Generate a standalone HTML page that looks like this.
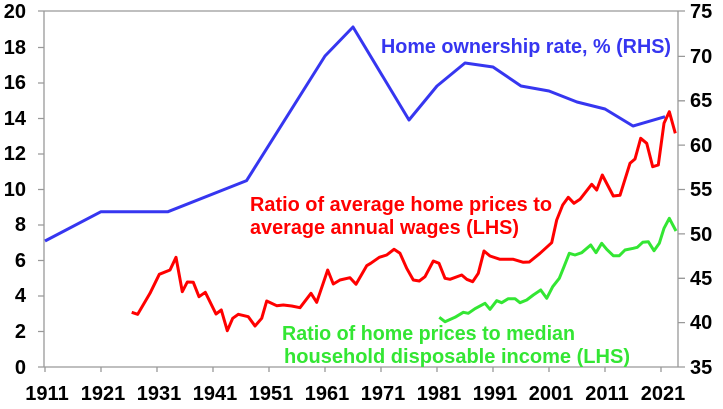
<!DOCTYPE html>
<html><head><meta charset="utf-8"><style>
html,body{margin:0;padding:0;background:#fff;}
svg{display:block;font-family:"Liberation Sans",Arial,sans-serif;font-weight:bold;}
</style></head><body>
<svg width="723" height="409" viewBox="0 0 723 409" xmlns="http://www.w3.org/2000/svg">
<g stroke="#999" stroke-width="1.3" fill="none">
<line x1="44" y1="11" x2="44" y2="367"/>
<line x1="44" y1="367" x2="678" y2="367"/>
<line x1="44" y1="11" x2="678" y2="11"/>
<line x1="678" y1="11" x2="678" y2="367"/>
<path d="M38 11H44M38 47.5H44M38 83H44M38 118.5H44M38 154H44M38 189.5H44M38 225H44M38 260.5H44M38 296H44M38 331.5H44M38 367H44"/>
<path d="M678 11H685M678 56.4H685M678 100.8H685M678 145.1H685M678 189.5H685M678 233.9H685M678 278.3H685M678 322.6H685M678 367H685"/>
<path d="M45 367V372M101 367V372M157 367V372M213 367V372M269 367V372M325 367V372M381 367V372M437 367V372M493 367V372M549 367V372M605 367V372M661 367V372"/>
</g>
<g font-size="20" fill="#000" text-anchor="end">
<text x="26" y="18">20</text><text x="26" y="54">18</text><text x="26" y="89">16</text><text x="26" y="125">14</text><text x="26" y="160">12</text><text x="26" y="196">10</text><text x="26" y="231">8</text><text x="26" y="267">6</text><text x="26" y="302">4</text><text x="26" y="338">2</text><text x="26" y="374">0</text>
</g>
<g font-size="20" fill="#000">
<text x="690" y="18">75</text><text x="690" y="63">70</text><text x="690" y="107">65</text><text x="690" y="152">60</text><text x="690" y="196">55</text><text x="690" y="241">50</text><text x="690" y="285">45</text><text x="690" y="329">40</text><text x="690" y="374">35</text>
</g>
<g font-size="20" fill="#000" text-anchor="middle">
<text x="47" y="400">1911</text><text x="103" y="400">1921</text><text x="159" y="400">1931</text><text x="215" y="400">1941</text><text x="271" y="400">1951</text><text x="327" y="400">1961</text><text x="383" y="400">1971</text><text x="439" y="400">1981</text><text x="495" y="400">1991</text><text x="551" y="400">2001</text><text x="607" y="400">2011</text><text x="663" y="400">2021</text>
</g>
<polyline fill="none" stroke="#3636f0" stroke-width="3" stroke-linejoin="round" points="45,241 101,211.7 168,211.7 246.6,180.6 325,56 353,27 409,120 437,86 465,63 493,67 521,86 549,91 577,102 605,109 633,126 665,116.7"/>
<polyline fill="none" stroke="#f00" stroke-width="3" stroke-linejoin="round" points="131.7,312.3 137.7,314.3 150,293.3 159.3,274.3 170,270 176,257.3 182.3,291.7 187.3,282 193.3,282.3 199,296.7 205.3,292.3 216,314 221.3,310 227.3,330.7 232.7,318.3 238.3,314.3 248.3,316.7 255,326 261.7,318.3 266.7,301 276.7,305.7 283.3,305 291.7,306 300,307.7 311,293.3 316.7,302.3 327.7,270 333.3,284 340,280 350,277.7 356,284.3 366.7,265.7 370.7,263.3 379.3,257.3 386.7,255 394,249.3 400,253.3 406.7,268.3 413.3,280 419.3,281 425,276.7 433.3,261 439,263.3 445,278.3 450,279.3 461.7,275 466.7,279.3 472.7,281.7 478.3,273.3 484,251 490,256 500,259.3 513.3,259.3 523.3,262.3 529.3,262 540,253.3 551.7,242.7 556.7,220 562.7,205 568.3,197.3 574,203.3 580,199.3 591.7,184.3 596.7,190 602.3,175 613.3,196 620,195.3 630,163.3 635,159 640.7,138.3 646.7,143.3 652.7,166.7 658.3,165 664,123.3 669.3,111.7 675.3,133.3"/>
<polyline fill="none" stroke="#33e633" stroke-width="3" stroke-linejoin="round" points="439.3,317.3 445,321.7 455,317.3 463.3,312.3 468.3,313.3 475,308.7 485,303.3 490,309.3 496.7,300.7 501.7,302.7 508.3,298.7 515,298.7 520,302.7 526.7,300 533.3,295 540.7,290 546.7,298.3 552.7,286.7 559.3,278.3 564,266.7 569.3,253.3 575,255 581.7,252.7 590.7,245 596,252.7 601.7,243.3 606.7,249.3 613.3,255.7 619.3,255.7 625,250 633.3,248.3 637.3,247.3 642.7,242.3 648.3,241.7 654,250.7 659.3,243.3 664,228.3 669.3,218.3 676,231"/>
<text x="381" y="53" font-size="20" fill="#3636f0" textLength="290" lengthAdjust="spacingAndGlyphs">Home ownership rate, % (RHS)</text>
<text x="250" y="211" font-size="20" fill="#f00" textLength="302" lengthAdjust="spacingAndGlyphs">Ratio of average home prices to</text>
<text x="250" y="234" font-size="20" fill="#f00" textLength="269" lengthAdjust="spacingAndGlyphs">average annual wages (LHS)</text>
<text x="282" y="340" font-size="20" fill="#33e633" textLength="293" lengthAdjust="spacingAndGlyphs">Ratio of home prices to median</text>
<text x="284" y="363" font-size="20" fill="#33e633" textLength="346" lengthAdjust="spacingAndGlyphs">household disposable income (LHS)</text>
</svg>
</body></html>
